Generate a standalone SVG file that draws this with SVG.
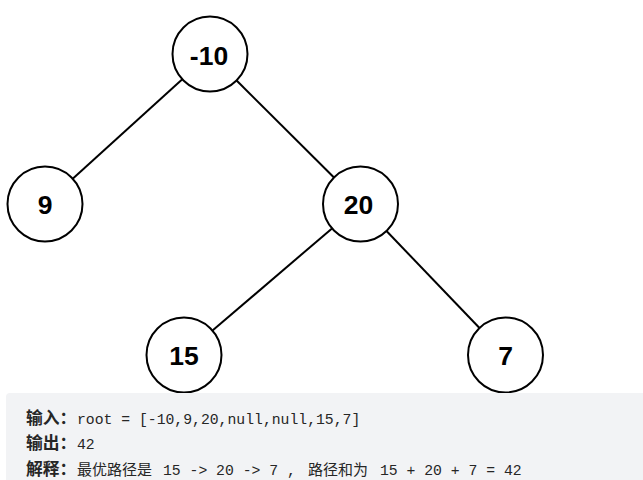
<svg xmlns="http://www.w3.org/2000/svg" width="643" height="480" viewBox="0 0 643 480">
<style>
.node circle{fill:#fff;stroke:#000;stroke-width:2}
.node text{font-family:"Liberation Sans",Arial,sans-serif;font-weight:bold;font-size:26.5px;text-anchor:middle;fill:#000}
.edges line{stroke:#000;stroke-width:2}
.t{font-family:"Liberation Mono","Noto Sans CJK SC",monospace;font-size:14.75px;fill:#262626}
.b{font-family:"Noto Sans CJK SC",sans-serif;font-weight:bold;font-size:16.8px;fill:#262626}
.c{font-family:"Noto Sans CJK SC",sans-serif;font-size:15px}
</style>
<rect x="0" y="0" width="643" height="480" fill="#fff"/>
<g class="edges">
<line x1="182.3" y1="79.2" x2="72.7" y2="178.8"/>
<line x1="236.6" y1="80.5" x2="334" y2="177.5"/>
<line x1="332" y1="228.4" x2="212.5" y2="330.6"/>
<line x1="386.5" y1="231" x2="479.5" y2="328"/>
</g>
<g id="n-10" class="node"><circle cx="210" cy="54" r="37.5"/><text x="209" y="65">-10</text></g>
<g id="n9" class="node"><circle cx="45" cy="204" r="37.5"/><text x="45" y="214">9</text></g>
<g id="n20" class="node"><circle cx="360.5" cy="204" r="37.5"/><text x="358.5" y="213.5">20</text></g>
<g id="n15" class="node"><circle cx="184" cy="355" r="37.5"/><text x="184" y="364.5">15</text></g>
<g id="n7" class="node"><circle cx="505.5" cy="355" r="37.5"/><text x="505.5" y="364.5">7</text></g>
<rect x="6" y="393" width="650" height="100" rx="4" fill="#f2f3f5"/>
<text class="b" x="26" y="424">输入：</text>
<text class="t" x="77" y="424">root = [-10,9,20,null,null,15,7]</text>
<text class="b" x="26" y="449">输出：</text>
<text class="t" x="77" y="449">42</text>
<text class="b" x="26" y="475">解释：</text>
<text class="t" y="475"><tspan class="c" x="77">最优路径是</tspan><tspan x="163">15 -&gt; 20 -&gt; 7 ,</tspan><tspan class="c" x="308">路径和为</tspan><tspan x="380">15 + 20 + 7 = 42</tspan></text>
</svg>
